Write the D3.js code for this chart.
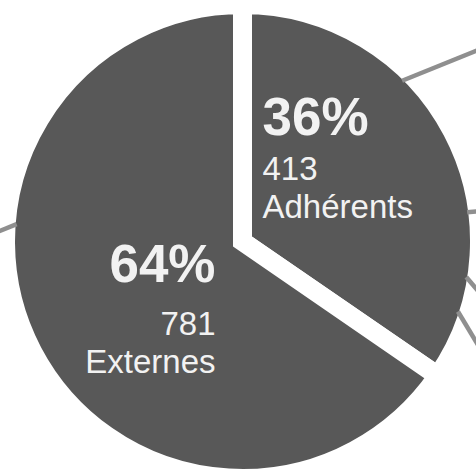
<!DOCTYPE html>
<html>
<head>
<meta charset="utf-8">
<script src="https://cdn.jsdelivr.net/npm/d3@7"></script>
<style>
  html, body { margin: 0; padding: 0; background: #fff; }
  svg { display: block; }
</style>
</head>
<body>
<div id="chart"></div>
<script>
(function () {
  // data
  const categories = ["Adhérents", "Externes"];
  const counts = [413, 781];
  const percentLabels = ["36%", "64%"];

  // grey connector lines that leave the pie (angle on circle, heading in degrees)
  const connectorAngles = [44.8, 82.6, 99, 108, 274.4];
  const connectorHeadings = [-22, -6, 50, 59, 158];

  const [width, height] = [476, 476];
  const [cx, cy] = [242.5, 241.5];
  const radius = 227.5;   // visible radius
  const gap = 19;         // white gap between slices

  const data = categories.map((c, i) => ({
    name: c, count: counts[i], pct: percentLabels[i]
  }));

  const svg = d3.select("#chart")
    .append("svg")
    .attr("width", width)
    .attr("height", height);

  const g = svg.append("g")
    .attr("transform", "translate(" + cx + "," + cy + ")");

  const pie = d3.pie()
    .sort(null)
    .value(d => d.count);

  const arc = d3.arc()
    .innerRadius(0)
    .outerRadius(radius + gap / 2);

  const arcs = pie(data);

  g.selectAll("path.slice")
    .data(arcs)
    .enter().append("path")
    .attr("class", "slice")
    .attr("d", arc)
    .attr("fill", "#585858")
    .attr("stroke", "#fff")
    .attr("stroke-width", gap)
    .attr("stroke-linejoin", "miter")
    .attr("stroke-miterlimit", 10);

  // connectors
  const rad = Math.PI / 180;
  g.selectAll("line.conn")
    .data(connectorAngles.map((a, i) => ({ a: a, h: connectorHeadings[i] })))
    .enter().append("line")
    .attr("class", "conn")
    .attr("x1", d => (radius - 1) * Math.sin(d.a * rad))
    .attr("y1", d => -(radius - 1) * Math.cos(d.a * rad))
    .attr("x2", d => (radius - 1) * Math.sin(d.a * rad) + 200 * Math.cos(d.h * rad))
    .attr("y2", d => -(radius - 1) * Math.cos(d.a * rad) + 200 * Math.sin(d.h * rad))
    .attr("stroke", "#8f8f8f")
    .attr("stroke-width", 4.5);

  // labels
  const font = "'Liberation Sans', Arial, sans-serif";
  const labelPos = [
    { x: 20, anchor: "start", y: [-106.5, -61.5, -23.5] },
    { x: -27, anchor: "end", y: [40.5, 93.5, 131.5] }
  ];

  data.forEach((d, i) => {
    const p = labelPos[i];
    const t = g.append("g")
      .attr("fill", "#f2f2f2")
      .attr("font-family", font)
      .attr("text-anchor", p.anchor);
    t.append("text")
      .attr("x", p.x).attr("y", p.y[0])
      .attr("font-size", 53)
      .attr("font-weight", "bold")
      .text(d.pct);
    t.append("text")
      .attr("x", p.x).attr("y", p.y[1])
      .attr("font-size", 33)
      .text(d.count);
    t.append("text")
      .attr("x", p.x).attr("y", p.y[2])
      .attr("font-size", 33)
      .text(d.name);
  });
})();
</script>
</body>
</html>
